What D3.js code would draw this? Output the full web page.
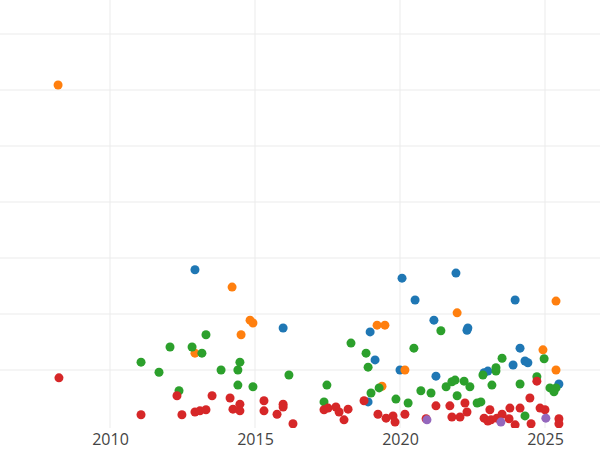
<!DOCTYPE html>
<html>
<head>
<meta charset="utf-8">
<script src="https://d3js.org/d3.v7.min.js"></script>
<style>
  body { margin: 0; background: #fff; }
  .tick text { font: 16px 'Open Sans', sans-serif; fill: #444; }
</style>
</head>
<body>
<svg id="chart"></svg>
<script>
// Serien: [Jahr, Wert]
var orange = [[2008.21,6.09],[2014.21,2.48],[2014.52,1.63],[2014.83,1.89],[2014.93,1.84],[2012.93,1.30],
  [2019.21,1.80],[2019.48,1.80],[2019.38,0.71],[2020.17,1.00],[2021.97,2.02],[2025.38,2.23],[2024.93,1.36],[2025.38,1.00]];
var blue = [[2012.93,2.79],[2015.97,1.75],[2020.07,2.64],[2020.52,2.25],[2021.93,2.73],[2018.97,1.68],[2019.14,1.18],
  [2018.90,0.43],[2020.0,1.00],[2021.17,1.89],[2022.34,1.75],[2022.31,1.71],[2021.24,0.89],[2022.90,0.95],[2023.03,0.98],
  [2023.97,2.25],[2024.14,1.39],[2024.31,1.16],[2024.41,1.13],[2023.90,1.09],[2025.48,0.75]];
var green = [[2011.07,1.14],[2011.69,0.96],[2012.07,1.41],[2012.38,0.63],[2012.83,1.41],[2013.17,1.30],[2013.31,1.63],
  [2013.83,1.00],[2014.41,1.00],[2014.48,1.14],[2014.41,0.73],[2014.93,0.70],[2016.17,0.91],[2017.38,0.43],[2017.48,0.73],
  [2018.31,1.48],[2018.83,1.30],[2018.90,1.05],[2019.0,0.59],[2019.28,0.68],[2019.86,0.48],[2020.28,0.41],[2020.48,1.39],
  [2020.72,0.63],[2021.07,0.59],[2021.41,1.70],[2021.59,0.70],[2021.79,0.79],[2021.90,0.82],[2021.97,0.54],[2022.21,0.80],
  [2022.41,0.70],[2022.66,0.41],[2022.79,0.43],[2022.86,0.91],[2023.17,0.73],[2023.31,0.98],[2023.31,1.04],[2023.52,1.21],
  [2024.14,0.75],[2024.31,0.18],[2024.72,0.88],[2024.97,1.20],[2025.17,0.68],[2025.38,0.68],[2025.31,0.61]];
var red = [[2008.24,0.86],[2011.07,0.20],[2012.31,0.54],[2012.48,0.20],[2012.93,0.25],[2013.10,0.27],[2013.31,0.29],
  [2013.52,0.54],[2014.14,0.50],[2014.24,0.30],[2014.48,0.39],[2014.48,0.27],[2015.31,0.45],[2015.31,0.27],[2015.76,0.21],
  [2015.97,0.39],[2015.97,0.34],[2016.31,0.04],[2017.38,0.29],[2017.52,0.32],[2017.79,0.34],[2017.90,0.25],[2018.07,0.11],
  [2018.21,0.30],[2018.76,0.45],[2019.24,0.21],[2019.52,0.14],[2019.76,0.18],[2019.83,0.07],[2020.17,0.21],[2021.24,0.36],
  [2020.90,0.13],[2021.72,0.36],[2021.79,0.16],[2022.07,0.16],[2022.24,0.41],[2022.31,0.25],[2022.90,0.14],[2023.03,0.09],
  [2023.10,0.29],[2023.14,0.11],[2023.34,0.14],[2023.52,0.21],[2023.79,0.32],[2023.97,0.02],[2024.14,0.32],[2024.48,0.50],
  [2024.52,0.04],[2024.72,0.80],[2024.83,0.32],[2025.00,0.29],[2025.48,0.13],[2025.48,0.04],[2023.76,0.13]];
var purple = [[2020.93,0.11],[2023.48,0.07],[2025.03,0.14]];
var xTicks = [2010, 2015, 2020, 2025];
var yTicks = [1, 2, 3, 4, 5, 6, 7];

var series = [
  {data: blue, color: "#1f77b4"},
  {data: orange, color: "#ff7f0e"},
  {data: green, color: "#2ca02c"},
  {data: red, color: "#d62728"},
  {data: purple, color: "#9467bd"}
];

var W = 600, H = 450, plotH = 428;
var svg = d3.select("#chart").attr("width", W).attr("height", H);

var x = d3.scaleLinear().domain([2006.207, 2026.897]).range([0, W]);
var y = d3.scaleLinear().domain([-0.036, 7.607]).range([plotH, 0]);

// Gitter
svg.append("g").selectAll("line").data(yTicks).enter().append("line")
  .attr("x1", 0).attr("x2", W)
  .attr("y1", function (d) { return y(d); }).attr("y2", function (d) { return y(d); })
  .attr("stroke", "#ebebeb").attr("stroke-width", 1);
svg.append("g").selectAll("line").data(xTicks).enter().append("line")
  .attr("y1", 0).attr("y2", plotH)
  .attr("x1", function (d) { return x(d); }).attr("x2", function (d) { return x(d); })
  .attr("stroke", "#ebebeb").attr("stroke-width", 1);

// X-Achse
var xAxis = svg.append("g")
  .attr("transform", "translate(0," + plotH + ")")
  .call(d3.axisBottom(x).tickValues(xTicks).tickFormat(d3.format("d")).tickSize(0).tickPadding(6));
xAxis.select(".domain").remove();

svg.append("clipPath").attr("id", "clip").append("rect")
  .attr("width", W).attr("height", plotH);

var pts = svg.append("g").attr("clip-path", "url(#clip)");
series.forEach(function (s) {
  pts.selectAll(null).data(s.data).enter().append("circle")
    .attr("cx", function (d) { return x(d[0]); })
    .attr("cy", function (d) { return y(d[1]); })
    .attr("r", 4.5)
    .attr("fill", s.color);
});
</script>
</body>
</html>
